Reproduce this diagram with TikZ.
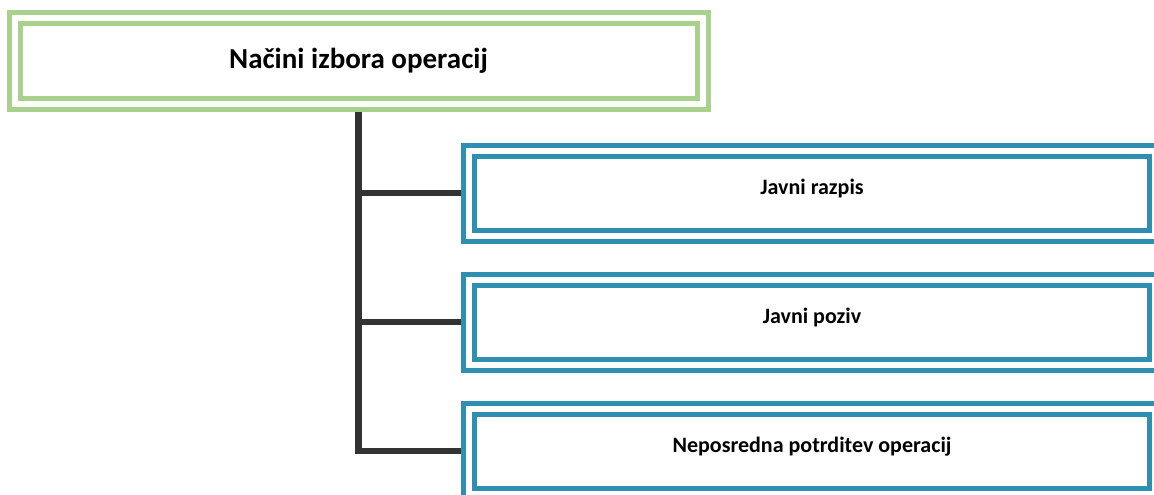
\documentclass[tikz,border=0pt]{standalone}
\usepackage{fontspec}
\setmainfont{Carlito}
\usetikzlibrary{positioning}
\definecolor{boxgreen}{HTML}{A9D18E}
\definecolor{boxblue}{HTML}{2E8FB1}
\definecolor{linegray}{HTML}{333333}
\begin{document}
\begin{tikzpicture}[x=1pt,y=-1pt,
    titlebox/.style={draw=boxgreen, line width=5pt, double=white, double distance=6pt, outer sep=0pt, minimum width=688pt, minimum height=85.5pt, font=\bfseries\fontsize{29}{34}\selectfont},
    itembox/.style={draw=boxblue, line width=5pt, double=white, double distance=6pt, outer sep=0pt, minimum width=686pt, minimum height=85pt, text depth=13pt, font=\bfseries\fontsize{22}{26}\selectfont},
    link/.style={draw=linegray, line width=6.5pt}]
    \clip (0,0) rectangle (1154,495);
    \node[titlebox] (title) at (358.5,61) {Načini izbora operacij};
    \node[itembox] (razpis) at (812,193) {Javni razpis};
    \node[itembox, below=44pt of razpis] (poziv) {Javni poziv};
    \node[itembox, below=44pt of poziv] (potrditev) {Neposredna potrditev operacij};
    \draw[link, shorten <=8pt, shorten >=8pt] (title.south) |- (potrditev.west);
    \foreach \n in {razpis, poziv}
    {
        \draw[link, shorten >=8pt] (title.south |- \n.west) -- (\n.west);
    }
\end{tikzpicture}
\end{document}
